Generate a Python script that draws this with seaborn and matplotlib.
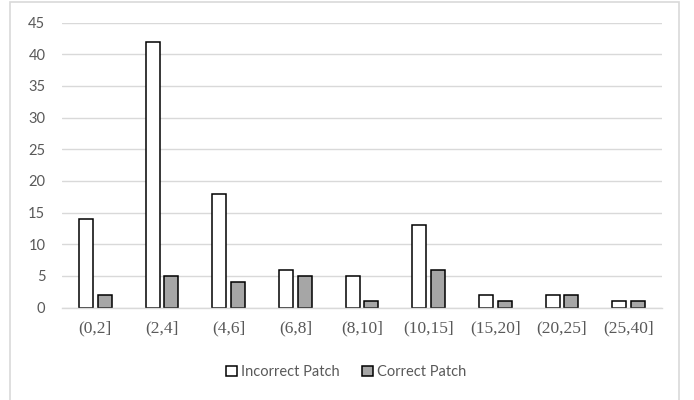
import pandas as pd
import seaborn as sns
import matplotlib.pyplot as plt
from matplotlib.patches import Rectangle

# values
ranges = ['(0,2]', '(2,4]', '(4,6]', '(6,8]', '(8,10]', '(10,15]', '(15,20]', '(20,25]', '(25,40]']
incorrect_patch = [14, 42, 18, 6, 5, 13, 2, 2, 1]
correct_patch = [2, 5, 4, 5, 1, 6, 1, 2, 1]
series_names = ['Incorrect Patch', 'Correct Patch']
y_ticks = list(range(0, 50, 5))

df = pd.DataFrame({
    'range': ranges * 2,
    'count': incorrect_patch + correct_patch,
    'patch': [series_names[0]] * len(ranges) + [series_names[1]] * len(ranges),
})

sns.set_theme(style='white')
plt.rcParams['font.family'] = ['Lato', 'DejaVu Sans']

fig = plt.figure(figsize=(6.94, 4.0), dpi=100)
ax = fig.add_axes([62 / 694, 1 - 307.5 / 400, 600 / 694, 284.8 / 400])

sns.barplot(data=df, x='range', y='count', hue='patch', order=ranges,
            hue_order=series_names, palette=['white', '#a6a6a6'],
            edgecolor='black', linewidth=1.1, width=0.56, gap=0.25,
            ax=ax, legend=True)

ax.set_ylim(0, 45)
ax.set_yticks(y_ticks)
ax.set_xlim(-0.5, len(ranges) - 0.5)
ax.yaxis.grid(True, color='#d9d9d9', linewidth=1.0)
ax.set_axisbelow(True)
for side in ['top', 'right', 'left']:
    ax.spines[side].set_visible(False)
ax.spines['bottom'].set_color('#d9d9d9')
ax.spines['bottom'].set_linewidth(1.0)
ax.set_xlabel('')
ax.set_ylabel('')
ax.tick_params(axis='y', length=0, pad=12, labelsize=10.5, labelcolor='#595959')
ax.tick_params(axis='x', length=0, pad=9, labelcolor='#595959')
for lbl in ax.get_xticklabels():
    lbl.set_fontfamily('Liberation Serif')
    lbl.set_fontsize(12.5)

handles, labels = ax.get_legend_handles_labels()
ax.get_legend().remove()
fig.legend(handles, labels, loc='center', bbox_to_anchor=(346 / 694, 1 - 372 / 400),
           ncol=2, frameon=False, fontsize=10.5, handlelength=0.75, handleheight=0.75,
           handletextpad=0.3, columnspacing=1.5, labelcolor='#595959')

# light chart-area border
fig.patches.append(Rectangle((9.5 / 694, -0.01), (679 - 9.5) / 694, 1 - 1.5 / 400 + 0.01,
                             transform=fig.transFigure, fill=False,
                             edgecolor='#d9d9d9', linewidth=1.2))

fig.savefig('out.png', dpi=100)
